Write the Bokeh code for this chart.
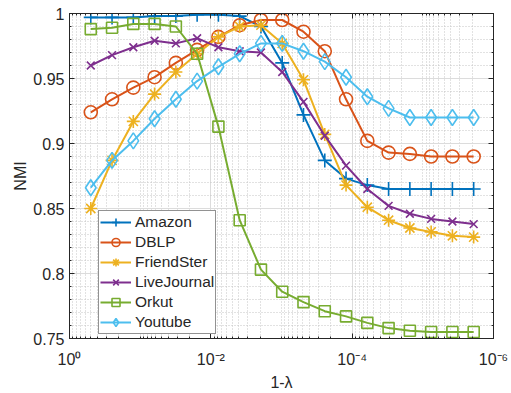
from bokeh.plotting import figure
from bokeh.models import Range1d, FixedTicker, CustomJSTickFormatter, LinearAxis, LogAxis
from bokeh.embed import file_html
from bokeh.resources import INLINE

# x = 1 - lambda
x_vals = [0.5, 0.25, 0.125, 0.0625, 0.03125, 0.015625, 0.0078125, 0.00390625,
          0.001953125, 9.765625e-4, 4.8828125e-4, 2.44140625e-4, 1.220703125e-4,
          6.103515625e-5, 3.0517578125e-5, 1.52587890625e-5, 7.62939453125e-6,
          3.814697265625e-6, 1.9073486328125e-6]

amazon = [0.997, 0.997, 0.997, 0.998, 0.998, 0.999, 0.999, 0.998, 0.990, 0.962,
          0.922, 0.887, 0.873, 0.868, 0.865, 0.865, 0.865, 0.865, 0.865]
dblp = [0.924, 0.934, 0.943, 0.951, 0.962, 0.972, 0.982, 0.991, 0.995, 0.995,
        0.986, 0.971, 0.934, 0.902, 0.893, 0.892, 0.890, 0.890, 0.890]
friendster = [0.850, 0.887, 0.917, 0.938, 0.955, 0.969, 0.982, 0.990, 0.991, 0.977,
              0.949, 0.907, 0.868, 0.851, 0.841, 0.835, 0.832, 0.829, 0.828]
livejournal = [0.960, 0.968, 0.974, 0.979, 0.977, 0.981, 0.974, 0.971, 0.970, 0.955,
               0.932, 0.906, 0.883, 0.865, 0.852, 0.846, 0.842, 0.840, 0.838]
orkut = [0.988, 0.989, 0.992, 0.992, 0.990, 0.969, 0.913, 0.841, 0.803, 0.786,
         0.778, 0.771, 0.767, 0.762, 0.758, 0.756, 0.755, 0.755, 0.755]
youtube = [0.866, 0.887, 0.902, 0.919, 0.934, 0.948, 0.959, 0.969, 0.977, 0.977,
           0.971, 0.963, 0.951, 0.936, 0.927, 0.920, 0.920, 0.920, 0.920]

series_names = ["Amazon", "DBLP", "FriendSter", "LiveJournal", "Orkut", "Youtube"]
series_vals = [amazon, dblp, friendster, livejournal, orkut, youtube]
colors = ["#0072BD", "#D95319", "#EDB120", "#7E2F8E", "#77AC30", "#4DBEEE"]
markers = ["cross", "circle", "asterisk", "x", "square", "diamond"]
msizes = [14, 13, 13, 11, 11, 16]

x_major = [1.0, 1e-2, 1e-4, 1e-6]
y_major = [0.75, 0.8, 0.85, 0.9, 0.95, 1.0]

TXT = "#262626"
FONT = "Liberation Sans"

x_minor = [m * 10.0 ** e for e in range(-6, 0) for m in range(1, 10)
           if not (m == 1 and e % 2 == 0)]
y_minor = [round(0.75 + 0.01 * i, 2) for i in range(26)]

p = figure(width=511, height=393, x_axis_type="log",
           x_range=Range1d(1.0, 1e-6), y_range=Range1d(0.75, 1.0),
           output_backend="svg", toolbar_location=None,
           min_border_left=69, min_border_right=18, min_border_top=13,
           min_border_bottom=52)

xt = FixedTicker(ticks=x_major, minor_ticks=x_minor)
yt = FixedTicker(ticks=y_major, minor_ticks=y_minor)

fmt_code = """
const e = Math.round(Math.log10(tick));
const m = {"-":"⁻","0":"⁰","1":"¹","2":"²","3":"³","4":"⁴","5":"⁵","6":"⁶","7":"⁷","8":"⁸","9":"⁹"};
return "10" + String(e).split("").map(c => m[c]).join("");
"""

p.xaxis.ticker = xt
p.yaxis.ticker = yt
p.xaxis.formatter = CustomJSTickFormatter(code=fmt_code)
p.xgrid.ticker = xt
p.ygrid.ticker = yt

for ax in (p.xaxis[0], p.yaxis[0]):
    ax.axis_line_color = TXT
    ax.major_tick_in = 5
    ax.major_tick_out = 0
    ax.minor_tick_in = 2
    ax.minor_tick_out = 0
    ax.major_tick_line_color = TXT
    ax.minor_tick_line_color = TXT
    ax.major_label_text_font = FONT
    ax.major_label_text_font_size = "16px"
    ax.major_label_text_color = TXT
    ax.axis_label_text_font = FONT
    ax.axis_label_text_font_size = "16px"
    ax.axis_label_text_font_style = "normal"
    ax.axis_label_text_color = TXT

p.xaxis.axis_label = "1-λ"
p.yaxis.axis_label = "NMI"
p.xaxis.major_label_standoff = 12
p.yaxis.major_label_standoff = 5
p.xaxis.axis_label_standoff = 3
p.yaxis.axis_label_standoff = 1

# top and right frame ticks (labels hidden)
top = LogAxis(ticker=xt, major_label_text_font_size="1px", major_label_text_alpha=0,
              major_label_standoff=0,
              major_tick_in=5, major_tick_out=0, minor_tick_in=2, minor_tick_out=0,
              axis_line_color=TXT, major_tick_line_color=TXT, minor_tick_line_color=TXT)
right = LinearAxis(ticker=yt, major_label_text_font_size="1px", major_label_text_alpha=0,
                   major_label_standoff=0,
                   major_tick_in=5, major_tick_out=0, minor_tick_in=2, minor_tick_out=0,
                   axis_line_color=TXT, major_tick_line_color=TXT, minor_tick_line_color=TXT)
p.add_layout(top, "above")
p.add_layout(right, "right")

for g in (p.xgrid[0], p.ygrid[0]):
    g.grid_line_color = "#dcdcdc"
    g.grid_line_width = 1
    g.minor_grid_line_color = "#c4c4c4"
    g.minor_grid_line_dash = "1 2"
    g.minor_grid_line_width = 1

p.outline_line_color = TXT
p.background_fill_color = "white"
p.border_fill_color = "white"

for name, vals, c, mk, ms in zip(series_names, series_vals, colors, markers, msizes):
    p.line(x_vals, vals, line_color=c, line_width=2, legend_label=name)
    p.scatter(x_vals, vals, marker=mk, size=ms, line_color=c, line_width=1.6,
              fill_color=None, legend_label=name)

lg = p.legend[0]
lg.location = (29, 4)
lg.margin = 0
lg.padding = 1
lg.spacing = 0
lg.glyph_width = 31
lg.glyph_height = 20
lg.label_height = 20
lg.label_standoff = 4
lg.label_text_font = FONT
lg.label_text_font_size = "15.5px"
lg.label_text_color = TXT
lg.border_line_color = TXT
lg.border_line_width = 1
lg.background_fill_color = "white"
lg.background_fill_alpha = 1

open("out.html", "w").write(file_html(p, INLINE))
